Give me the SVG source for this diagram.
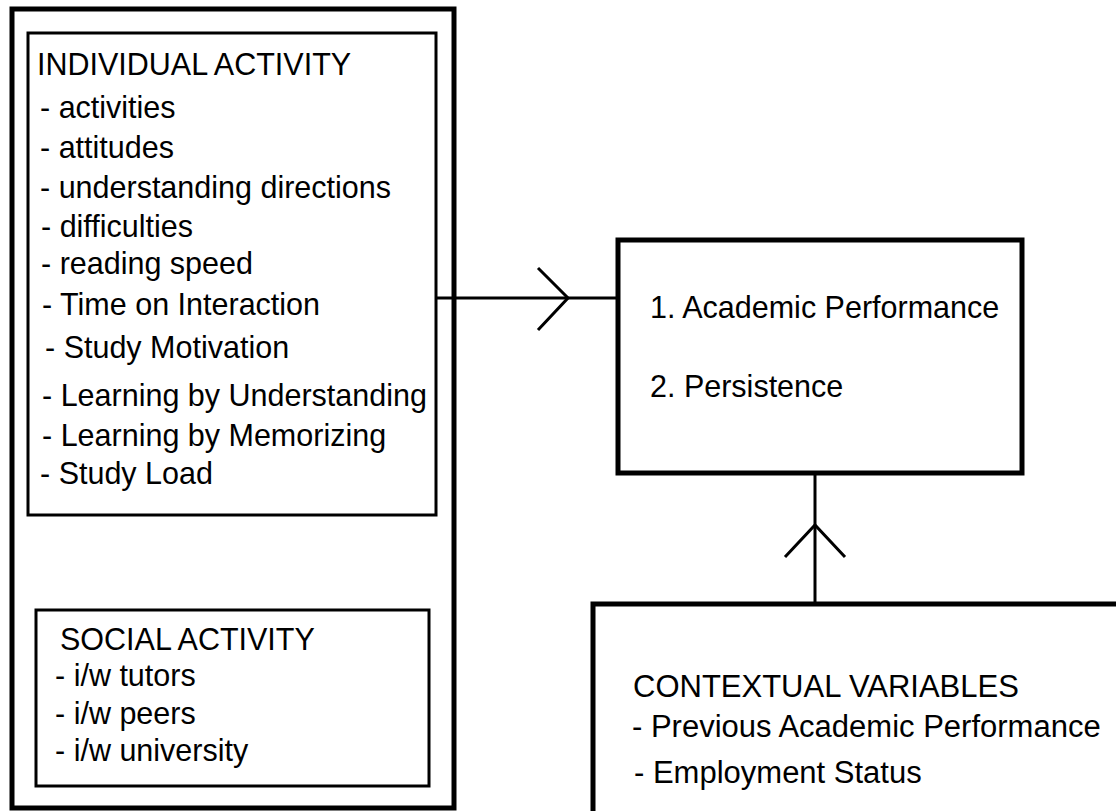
<svg xmlns="http://www.w3.org/2000/svg" width="1116" height="811" viewBox="0 0 1116 811">
<style>
.box{fill:none;stroke:#000;}
.thick{stroke-width:5;}
.thin{stroke-width:3;}
.t{font-family:"Liberation Sans",Arial,sans-serif;font-size:30.5px;fill:#000;}
.c{font-size:31px;}
.conn{fill:none;stroke:#000;stroke-width:3;stroke-linecap:butt;stroke-linejoin:miter;}
</style>
<rect width="1116" height="811" fill="#fff"/>
<g id="outer-learner">
<rect class="box thick" x="12" y="9" width="442" height="799"/>
</g>
<g id="individual-activity">
<rect class="box thin" x="28" y="33" width="408" height="482"/>
<text class="t" x="37" y="75">INDIVIDUAL ACTIVITY</text>
<text class="t" x="40" y="118">- activities</text>
<text class="t" x="40" y="158">- attitudes</text>
<text class="t" x="40" y="198">- understanding directions</text>
<text class="t" x="41" y="237">- difficulties</text>
<text class="t" x="41" y="274">- reading speed</text>
<text class="t" x="42" y="315">- Time on Interaction</text>
<text class="t" x="45" y="358">- Study Motivation</text>
<text class="t" x="42" y="406">- Learning by Understanding</text>
<text class="t" x="42" y="446">- Learning by Memorizing</text>
<text class="t" x="40" y="484">- Study Load</text>
</g>
<g id="social-activity">
<rect class="box thin" x="36" y="610" width="393" height="176"/>
<text class="t" x="60" y="650">SOCIAL ACTIVITY</text>
<text class="t" x="55" y="686">- i/w tutors</text>
<text class="t" x="55" y="724">- i/w peers</text>
<text class="t" x="55" y="761">- i/w university</text>
</g>
<g id="outcomes">
<rect class="box thick" x="618" y="240" width="404" height="233"/>
<text class="t" x="650" y="318">1. Academic Performance</text>
<text class="t" x="650" y="397">2. Persistence</text>
</g>
<g id="contextual-variables">
<rect class="box thick" x="593" y="604" width="540" height="230"/>
<text class="t c" x="633" y="697">CONTEXTUAL VARIABLES</text>
<text class="t c" x="632" y="737">- Previous Academic Performance</text>
<text class="t c" x="634" y="783">- Employment Status</text>
</g>
<g id="connectors">
<line class="conn" x1="436" y1="298" x2="618" y2="298"/>
<polyline class="conn" points="538,268 568,298 538,330"/>
<line class="conn" x1="815" y1="473" x2="815" y2="604"/>
<polyline class="conn" points="785,557 815,525 845,557"/>
</g>
</svg>
